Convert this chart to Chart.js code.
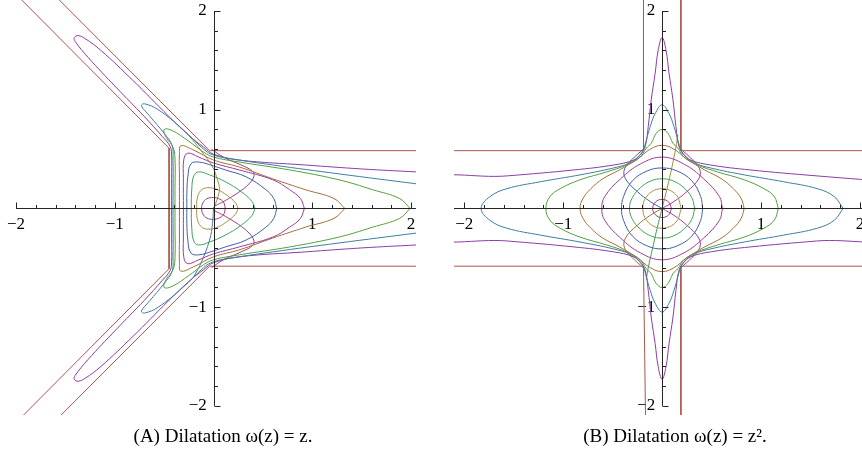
<!DOCTYPE html>
<html><head><meta charset="utf-8">
<script src="https://cdn.jsdelivr.net/npm/chart.js@4"></script>
<style>
html,body{margin:0;padding:0;background:#fff;width:862px;height:457px;overflow:hidden;position:relative}
canvas{position:absolute;top:0}
#ca{left:0}
#cb{left:431px}
</style></head><body>
<canvas id="ca" width="446" height="457"></canvas>
<canvas id="cb" width="465" height="457"></canvas>
<script>
// ---------- tick labels ----------
const tickValues = [-2, -1, 1, 2];
const tickLabels = ['\u22122', '\u22121', '1', '2'];
const minorTickValues = [-1.8,-1.6,-1.4,-1.2,-0.8,-0.6,-0.4,-0.2,0.2,0.4,0.6,0.8,1.2,1.4,1.6,1.8];
const captions = ['(A) Dilatation \u03c9(z) = z.', '(B) Dilatation \u03c9(z) = z\u00b2.'];

// ---------- colours (curve index order) ----------
const curveColors = ['#9e3d7a','#a0913d','#3fa35a','#3f60a8','#9e3d99','#a0703d','#52a03d','#3d7ea3','#8a3da3','#a8584a'];

// ---------- panel A : images of circles, dilatation z ----------
const A_r1 = [[0.12,0],[0.1,0.065],[0.05,0.1],[-0.02,0.11],[-0.08,0.09],[-0.115,0.04],[-0.12,0],[-0.115,-0.04],[-0.08,-0.09],[-0.02,-0.11],[0.05,-0.1],[0.1,-0.065],[0.12,0]];
const A_r2 = [[0.25,0],[0.22,0.06],[0.14,0.13],[0.04,0.19],[-0.06,0.21],[-0.13,0.18],[-0.165,0.1],[-0.17,0],[-0.165,-0.1],[-0.13,-0.18],[-0.06,-0.21],[0.04,-0.19],[0.14,-0.13],[0.22,-0.06],[0.25,0]];
const A_r3 = [[0.42,0],[0.39,0.07],[0.28,0.17],[0.12,0.27],[-0.04,0.34],[-0.15,0.37],[-0.2,0.33],[-0.22,0.2],[-0.225,0],[-0.22,-0.2],[-0.2,-0.33],[-0.15,-0.37],[-0.04,-0.34],[0.12,-0.27],[0.28,-0.17],[0.39,-0.07],[0.42,0]];
const A_r4 = [[0.64,0],[0.61,0.1],[0.53,0.19],[0.33,0.32],[0.12,0.39],[0,0.43],[-0.15,0.47],[-0.23,0.45],[-0.26,0.32],[-0.27,0.15],[-0.27,0],[-0.27,-0.15],[-0.26,-0.32],[-0.23,-0.45],[-0.15,-0.47],[0,-0.43],[0.12,-0.39],[0.33,-0.32],[0.53,-0.19],[0.61,-0.1],[0.64,0]];
const A_r5 = [[0.92,0],[0.88,0.1],[0.77,0.19],[0.6,0.29],[0.26,0.39],[0,0.46],[-0.15,0.52],[-0.26,0.56],[-0.3,0.5],[-0.305,0.3],[-0.305,0],[-0.305,-0.3],[-0.3,-0.5],[-0.26,-0.56],[-0.15,-0.52],[0,-0.46],[0.26,-0.39],[0.6,-0.29],[0.77,-0.19],[0.88,-0.1],[0.92,0]];
const A_r6 = [[1.33,0],[1.22,0.1],[0.93,0.19],[0.6,0.3],[0.26,0.42],[0,0.49],[-0.2,0.59],[-0.33,0.635],[-0.345,0.55],[-0.345,0.3],[-0.345,0],[-0.345,-0.3],[-0.345,-0.55],[-0.33,-0.635],[-0.2,-0.59],[0,-0.49],[0.26,-0.42],[0.6,-0.3],[0.93,-0.19],[1.22,-0.1],[1.33,0]];
const A_r7 = [[1.99,0],[1.885,0.1],[1.61,0.19],[1.27,0.29],[0.77,0.39],[0.26,0.47],[0,0.52],[-0.1,0.57],[-0.25,0.68],[-0.42,0.79],[-0.5,0.8],[-0.48,0.72],[-0.41,0.62],[-0.39,0.5],[-0.39,0.2],[-0.39,0],[-0.39,-0.2],[-0.39,-0.5],[-0.41,-0.62],[-0.48,-0.72],[-0.5,-0.8],[-0.42,-0.79],[-0.25,-0.68],[-0.1,-0.57],[0,-0.52],[0.26,-0.47],[0.77,-0.39],[1.27,-0.29],[1.61,-0.19],[1.885,-0.1],[1.99,0]];
const A_r8 = [[2.05,0.25],[1.27,0.35],[0.6,0.44],[0.2,0.5],[0,0.54],[-0.1,0.6],[-0.31,0.8],[-0.56,1.0],[-0.7,1.06],[-0.73,1.04],[-0.65,0.94],[-0.5,0.76],[-0.42,0.64],[-0.41,0.5],[-0.41,0],[-0.41,-0.5],[-0.42,-0.64],[-0.5,-0.76],[-0.65,-0.94],[-0.73,-1.04],[-0.7,-1.06],[-0.56,-1.0],[-0.31,-0.8],[-0.1,-0.6],[0,-0.54],[0.2,-0.5],[0.6,-0.44],[1.27,-0.35],[2.05,-0.25]];
const A_r9 = [[2.05,0.37],[1.5,0.4],[0.93,0.44],[0.26,0.49],[0,0.55],[-0.1,0.62],[-0.25,0.74],[-0.45,0.93],[-0.82,1.3],[-1.14,1.6],[-1.3,1.72],[-1.37,1.75],[-1.41,1.73],[-1.4,1.69],[-1.27,1.53],[-0.99,1.23],[-0.7,0.93],[-0.52,0.73],[-0.44,0.63],[-0.425,0.55],[-0.424,0.3],[-0.424,0],[-0.424,-0.3],[-0.425,-0.55],[-0.44,-0.63],[-0.52,-0.73],[-0.7,-0.93],[-0.99,-1.23],[-1.27,-1.53],[-1.4,-1.69],[-1.41,-1.73],[-1.37,-1.75],[-1.3,-1.72],[-1.14,-1.6],[-0.82,-1.3],[-0.45,-0.93],[-0.25,-0.74],[-0.1,-0.62],[0,-0.55],[0.26,-0.49],[0.93,-0.44],[1.5,-0.4],[2.05,-0.37]];
// strokes through the centre
const A_s1 = [[-0.02,0.6],[0.1,0.52],[0.28,0.44],[0.39,0.38],[0.41,0.33],[0.36,0.25],[0.25,0.16],[0.12,0.08],[0,0],[0.12,-0.08],[0.25,-0.16],[0.36,-0.25],[0.41,-0.33],[0.39,-0.38],[0.28,-0.44],[0.1,-0.52],[-0.02,-0.6]];
const A_s2 = [[0,0],[0.04,0.1],[0.06,0.2],[0.04,0.29],[-0.01,0.42],[-0.13,0.59],[-0.25,0.74]];
const A_s3 = [[0,0],[-0.01,-0.15],[-0.04,-0.32],[-0.13,-0.56],[-0.2,-0.69]];
const A_edge1 = [[2.05,0.585],[-0.04,0.585],[-1.7,2.25]];
const A_edge2 = [[-2.1,2.27],[-0.45,0.61],[-0.45,-0.61],[-2.1,-2.27]];
const A_edge3 = [[-1.7,-2.25],[-0.04,-0.585],[2.05,-0.585]];

// ---------- panel B : images of circles, dilatation z^2 ----------
const B_r1 = [[0.095,0],[0.067,0.065],[0,0.092],[-0.067,0.065],[-0.095,0],[-0.067,-0.065],[0,-0.092],[0.067,-0.065],[0.095,0]];
const B_r2 = [[0.195,0],[0.14,0.14],[0,0.2],[-0.14,0.14],[-0.195,0],[-0.14,-0.14],[0,-0.2],[0.14,-0.14],[0.195,0]];
const B_r3 = [[0.33,0],[0.3,0.11],[0.22,0.21],[0.11,0.28],[0,0.3],[-0.11,0.28],[-0.22,0.21],[-0.3,0.11],[-0.33,0],[-0.3,-0.11],[-0.22,-0.21],[-0.11,-0.28],[0,-0.3],[0.11,-0.28],[0.22,-0.21],[0.3,-0.11],[0.33,0]];
const B_r4 = [[0.41,0],[0.39,0.12],[0.3,0.28],[0.15,0.38],[0,0.41],[-0.15,0.38],[-0.3,0.28],[-0.39,0.12],[-0.41,0],[-0.39,-0.12],[-0.3,-0.28],[-0.15,-0.38],[0,-0.41],[0.15,-0.38],[0.3,-0.28],[0.39,-0.12],[0.41,0]];
const B_r5 = [[0.61,0],[0.58,0.12],[0.42,0.3],[0.22,0.45],[0,0.52],[-0.22,0.45],[-0.42,0.3],[-0.58,0.12],[-0.61,0],[-0.58,-0.12],[-0.42,-0.3],[-0.22,-0.45],[0,-0.52],[0.22,-0.45],[0.42,-0.3],[0.58,-0.12],[0.61,0]];
const B_r6 = [[0.83,0],[0.8,0.1],[0.72,0.2],[0.6,0.3],[0.43,0.39],[0.25,0.5],[0.12,0.6],[0,0.64],[-0.12,0.6],[-0.25,0.5],[-0.43,0.39],[-0.6,0.3],[-0.72,0.2],[-0.8,0.1],[-0.83,0],[-0.8,-0.1],[-0.72,-0.2],[-0.6,-0.3],[-0.43,-0.39],[-0.25,-0.5],[-0.12,-0.6],[0,-0.64],[0.12,-0.6],[0.25,-0.5],[0.43,-0.39],[0.6,-0.3],[0.72,-0.2],[0.8,-0.1],[0.83,0]];
const B_r7 = [[1.175,0],[1.135,0.118],[1.03,0.2],[0.83,0.29],[0.56,0.37],[0.36,0.44],[0.22,0.52],[0.16,0.61],[0.11,0.66],[0.06,0.76],[0,0.8],[-0.06,0.76],[-0.11,0.66],[-0.16,0.61],[-0.22,0.52],[-0.36,0.44],[-0.56,0.37],[-0.83,0.29],[-1.03,0.2],[-1.135,0.118],[-1.175,0],[-1.135,-0.118],[-1.03,-0.2],[-0.83,-0.29],[-0.56,-0.37],[-0.36,-0.44],[-0.22,-0.52],[-0.16,-0.61],[-0.11,-0.66],[-0.06,-0.76],[0,-0.8],[0.06,-0.76],[0.11,-0.66],[0.16,-0.61],[0.22,-0.52],[0.36,-0.44],[0.56,-0.37],[0.83,-0.29],[1.03,-0.2],[1.135,-0.118],[1.175,0]];
const B_r8 = [[1.83,0],[1.74,0.12],[1.57,0.2],[1.23,0.27],[0.83,0.34],[0.49,0.41],[0.33,0.46],[0.22,0.54],[0.19,0.59],[0.16,0.69],[0.12,0.83],[0.07,0.96],[0,1.05],[-0.07,0.96],[-0.12,0.83],[-0.16,0.69],[-0.19,0.59],[-0.22,0.54],[-0.33,0.46],[-0.49,0.41],[-0.83,0.34],[-1.23,0.27],[-1.57,0.2],[-1.74,0.12],[-1.83,0],[-1.74,-0.12],[-1.57,-0.2],[-1.23,-0.27],[-0.83,-0.34],[-0.49,-0.41],[-0.33,-0.46],[-0.22,-0.54],[-0.19,-0.59],[-0.16,-0.69],[-0.12,-0.83],[-0.07,-0.96],[0,-1.05],[0.07,-0.96],[0.12,-0.83],[0.16,-0.69],[0.19,-0.59],[0.22,-0.54],[0.33,-0.46],[0.49,-0.41],[0.83,-0.34],[1.23,-0.27],[1.57,-0.2],[1.74,-0.12],[1.83,0]];
const B_r9 = [[2.45,0.26],[1.56,0.33],[0.89,0.39],[0.49,0.44],[0.29,0.49],[0.21,0.56],[0.17,0.63],[0.14,0.83],[0.11,1.1],[0.07,1.37],[0.04,1.6],[0,1.73],[-0.04,1.6],[-0.07,1.37],[-0.11,1.1],[-0.14,0.83],[-0.17,0.63],[-0.21,0.56],[-0.29,0.49],[-0.49,0.44],[-0.89,0.39],[-1.56,0.33],[-2.45,0.26],[-2.45,-0.26],[-1.56,-0.33],[-0.89,-0.39],[-0.49,-0.44],[-0.29,-0.49],[-0.21,-0.56],[-0.17,-0.63],[-0.14,-0.83],[-0.11,-1.1],[-0.07,-1.37],[-0.04,-1.6],[0,-1.73],[0.04,-1.6],[0.07,-1.37],[0.11,-1.1],[0.14,-0.83],[0.17,-0.63],[0.21,-0.56],[0.29,-0.49],[0.49,-0.44],[0.89,-0.39],[1.56,-0.33],[2.45,-0.26],[2.45,0.26]];
// bulging strokes through the centre
const B_s1 = [[-0.19,0.6],[-0.3,0.5],[-0.38,0.4],[-0.37,0.3],[-0.25,0.17],[-0.12,0.07],[0,0]];
const B_s2 = [[0.19,0.6],[0.3,0.5],[0.38,0.4],[0.37,0.3],[0.25,0.17],[0.12,0.07],[0,0]];
const B_s3 = [[-0.19,-0.6],[-0.3,-0.5],[-0.38,-0.4],[-0.37,-0.3],[-0.25,-0.17],[-0.12,-0.07],[0,0]];
const B_s4 = [[0.19,-0.6],[0.3,-0.5],[0.38,-0.4],[0.37,-0.3],[0.25,-0.17],[0.12,-0.07],[0,0]];
const B_s5 = [[0,0],[0.05,0.2],[0.1,0.42],[0.14,0.62],[0.16,0.75]];
const B_s6 = [[0,0],[-0.05,-0.2],[-0.1,-0.42],[-0.14,-0.6],[-0.16,-0.72]];
const B_edge1 = [[-2.3,0.585],[-0.188,0.585],[-0.188,2.3]];
const B_edge2 = [[0.19,2.3],[0.19,0.585],[2.5,0.585]];
const B_edge3 = [[2.5,-0.585],[0.19,-0.585],[0.19,-2.3]];
const B_edge4 = [[-0.165,-2.3],[-0.188,-0.585],[-2.3,-0.585]];

// ---------- helpers ----------
function ds(points, color, tension) {
  return {
    data: points.map(p => ({x: p[0], y: p[1]})),
    borderColor: color, borderWidth: 1, pointRadius: 0, showLine: true,
    fill: false, tension: tension
  };
}
const C = curveColors;
const panelA = [
  ds(A_r1,C[0],0.4), ds(A_r2,C[1],0.4), ds(A_r3,C[2],0.4), ds(A_r4,C[3],0.4), ds(A_r5,C[4],0.4),
  ds(A_r6,C[5],0.4), ds(A_r7,C[6],0.4), ds(A_r8,C[7],0.4), ds(A_r9,C[8],0.4),
  ds(A_s1,C[0],0.4), ds(A_s2,C[1],0.4), ds(A_s3,C[7],0.4),
  ds(A_edge1,C[9],0), ds(A_edge2,C[9],0), ds(A_edge3,C[9],0)
];
const panelB = [
  ds(B_r1,C[0],0.4), ds(B_r2,C[1],0.4), ds(B_r3,C[2],0.4), ds(B_r4,C[3],0.4), ds(B_r5,C[4],0.4),
  ds(B_r6,C[5],0.4), ds(B_r7,C[6],0.4), ds(B_r8,C[7],0.4), ds(B_r9,C[8],0.4),
  ds(B_s1,C[3],0.4), ds(B_s2,C[4],0.4), ds(B_s3,C[5],0.4), ds(B_s4,C[4],0.4),
  ds(B_s5,C[1],0.4), ds(B_s6,C[2],0.4),
  ds(B_edge1,C[9],0), ds(B_edge2,C[9],0), ds(B_edge3,C[9],0), ds(B_edge4,C[9],0)
];

// axis lines and Mathematica-style tick marks (ticks point up / right)
function axisDeco(xFrom, xTo) {
  return {
    id: 'axisDeco',
    afterDatasetsDraw(chart) {
      const {ctx, scales: {x, y}} = chart;
      const x0 = Math.round(x.getPixelForValue(0)) + 0.5;
      const y0 = Math.round(y.getPixelForValue(0)) + 0.5;
      ctx.save();
      ctx.strokeStyle = '#2a2222';
      ctx.lineWidth = 1;
      ctx.beginPath();
      ctx.moveTo(x.getPixelForValue(xFrom), y0); ctx.lineTo(x.getPixelForValue(xTo), y0);
      ctx.moveTo(x0, y.getPixelForValue(2)); ctx.lineTo(x0, y.getPixelForValue(-2));
      tickValues.forEach(v => {
        const px = Math.round(x.getPixelForValue(v)) + 0.5;
        ctx.moveTo(px, y0); ctx.lineTo(px, y0 - 6);
        const py = Math.round(y.getPixelForValue(v)) + 0.5;
        ctx.moveTo(x0, py); ctx.lineTo(x0 + 6, py);
      });
      minorTickValues.forEach(v => {
        const px = Math.round(x.getPixelForValue(v)) + 0.5;
        ctx.moveTo(px, y0); ctx.lineTo(px, y0 - 3.5);
        const py = Math.round(y.getPixelForValue(v)) + 0.5;
        ctx.moveTo(x0, py); ctx.lineTo(x0 + 3.5, py);
      });
      ctx.stroke();
      ctx.restore();
    }
  };
}

function noSpace(s) {
  if (s.isHorizontal()) s.height = 0; else s.width = 0;
  s.paddingTop = 0; s.paddingBottom = 0; s.paddingLeft = 0; s.paddingRight = 0;
}

function makeChart(id, datasets, xmin, xmax, padLeft, caption, xFrom, xTo) {
  const font = {family: '"Liberation Serif", "Times New Roman", serif', size: 17};
  const tickOpts = (pad, suffix) => ({
    display: true, color: '#000', font: font, padding: pad, autoSkip: false, maxRotation: 0,
    callback: (v) => { const i = tickValues.indexOf(v); return i < 0 ? '' : tickLabels[i] + suffix; }
  });
  return new Chart(document.getElementById(id), {
    type: 'scatter',
    data: {datasets},
    options: {
      responsive: false, animation: false, devicePixelRatio: 1,
      layout: {padding: {left: padLeft, right: 0, top: 0, bottom: 0}},
      plugins: {
        legend: {display: false}, tooltip: {enabled: false},
        title: {display: true, position: 'bottom', text: caption, color: '#000',
          font: {family: '"Liberation Serif", "Times New Roman", serif', size: 19, weight: 'normal'},
          padding: {top: 11, bottom: 8.2}}
      },
      scales: {
        x: {type: 'linear', position: {y: 0}, min: xmin, max: xmax,
          grid: {display: false}, border: {display: false},
          afterBuildTicks: s => { s.ticks = tickValues.map(v => ({value: v})); },
          afterFit: noSpace,
          ticks: tickOpts(-2, '')},
        y: {type: 'linear', position: {x: 0}, min: -2.092, max: 2.111,
          grid: {display: false}, border: {display: false},
          afterBuildTicks: s => { s.ticks = tickValues.map(v => ({value: v})); },
          afterFit: noSpace,
          ticks: tickOpts(5, '\u2009\u2009')}
      }
    },
    plugins: [axisDeco(xFrom, xTo)]
  });
}

makeChart('ca', panelA, -2.162, 2.354, 0, captions[0], -2, 2.05);
makeChart('cb', panelB, -2.104, 2.365, 23, captions[1], -2.104, 2.1);
</script>
</body></html>
